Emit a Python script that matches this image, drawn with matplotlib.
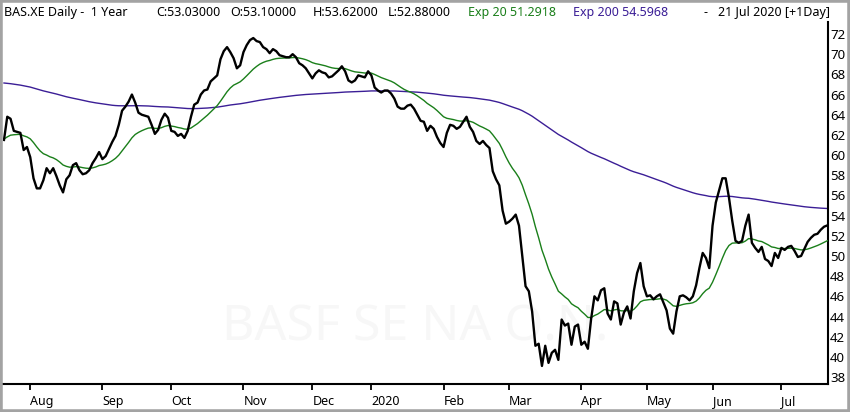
import pandas as pd
import matplotlib
matplotlib.use("Agg")
import matplotlib.pyplot as plt
from matplotlib.patches import Rectangle

plt.rcParams['font.family'] = ['Noto Sans', 'DejaVu Sans']

# trading days (Xetra), 22 Jul 2019 .. 21 Jul 2020
holidays = ['2019-10-03', '2019-12-24', '2019-12-25', '2019-12-26', '2019-12-31',
            '2020-01-01', '2020-04-10', '2020-04-13', '2020-05-01', '2020-06-01']
dates = pd.bdate_range('2019-07-22', '2020-07-21')
dates = dates[~dates.isin(pd.to_datetime(holidays))]

# daily close
close = [
  61.5, 63.8, 63.6, 62.4, 62.3, 62.2, 60.5, 60.8, 59.8, 57.7,
  56.7, 56.7, 57.5, 58.7, 58.2, 58.7, 57.9, 57.0, 56.3, 57.6,
  58.0, 59.0, 59.2, 58.5, 58.1, 58.2, 58.5, 59.2, 59.7, 60.3,
  59.6, 59.9, 60.6, 61.3, 61.9, 63.0, 64.4, 64.8, 65.3, 66.0,
  65.2, 64.2, 64.0, 63.9, 63.8, 63.0, 62.1, 62.5, 63.5, 64.1,
  63.7, 62.4, 62.3, 61.9, 62.1, 61.7, 62.4, 63.8, 65.0, 65.2,
  66.0, 66.4, 66.5, 67.3, 67.6, 67.9, 69.5, 70.3, 70.7, 70.2,
  69.6, 68.6, 68.9, 70.2, 70.9, 71.4, 71.6, 71.3, 71.2, 70.7,
  70.5, 70.1, 70.5, 70.3, 69.9, 69.8, 69.7, 69.7, 70.0, 69.7,
  69.1, 68.9, 68.6, 68.1, 67.6, 68.1, 68.4, 68.2, 68.1, 67.7,
  67.8, 68.1, 68.4, 68.8, 68.3, 67.4, 67.2, 67.4, 67.9, 67.8,
  67.7, 68.3, 67.9, 66.7, 66.4, 66.2, 66.4, 66.4, 66.1, 65.6,
  64.8, 64.6, 64.6, 64.9, 65.0, 64.6, 64.0, 63.4, 63.3, 62.4,
  62.9, 62.6, 61.8, 61.2, 60.8, 62.2, 63.0, 62.9, 62.6, 62.8,
  63.3, 63.8, 62.8, 62.3, 61.4, 61.1, 61.4, 61.0, 60.7, 58.4,
  57.6, 57.0, 54.5, 53.2, 53.4, 53.7, 54.1, 53.0, 50.0, 47.0,
  46.5, 44.5, 41.1, 41.3, 39.1, 41.1, 39.4, 40.4, 40.7, 39.7,
  43.7, 43.1, 43.3, 41.2, 43.0, 43.2, 41.2, 41.5, 40.8, 43.8,
  46.0, 45.6, 46.6, 46.8, 44.3, 43.7, 45.5, 45.3, 43.2, 44.4,
  45.0, 43.8, 46.5, 48.3, 49.3, 47.0, 46.0, 46.1, 45.7, 46.0,
  46.2, 45.4, 44.6, 42.8, 42.3, 44.5, 46.0, 46.1, 45.9, 45.6,
  46.0, 47.1, 48.8, 50.3, 49.8, 48.8, 53.0, 55.3, 56.5, 57.7,
  57.7, 55.8, 53.5, 51.5, 51.3, 51.5, 53.0, 54.1, 51.3, 50.8,
  50.4, 50.9, 49.7, 49.5, 49.0, 50.3, 49.8, 50.8, 50.6, 50.9,
  51.0, 50.5, 49.9, 50.0, 50.7, 51.4, 51.8, 52.1, 52.2, 52.6,
  52.9, 53.03,
]

# EMA values just before the window
ema20_start = 61.6
ema200_start = 67.2

header_left = "BAS.XE Daily -  1 Year"
ohlc = [("C", "53.03000"), ("O", "53.10000"), ("H", "53.62000"), ("L", "52.88000")]
exp20_txt = "Exp 20 51.2918"
exp200_txt = "Exp 200 54.5968"
date_txt = "21 Jul 2020 [+1Day]"

y_ticks = list(range(38, 73, 2))

n = min(len(close), len(dates))
s = pd.Series(close[:n])
ema20 = pd.concat([pd.Series([ema20_start]), s]).ewm(span=20, adjust=False).mean().iloc[1:].values
ema200 = pd.concat([pd.Series([ema200_start]), s]).ewm(span=200, adjust=False).mean().iloc[1:].values
x = list(range(n))

# month ticks at first trading day of each month
d = pd.Series(dates[:n])
first = d.dt.to_period('M') != d.dt.to_period('M').shift(1)
first.iloc[0] = False
m_idx = list(d[first].index)
m_lab = [dt.strftime('%Y') if dt.month == 1 else dt.strftime('%b') for dt in d[first]]

W, H = 850, 412
fig = plt.figure(figsize=(W / 100, H / 100), dpi=100)
ax = fig.add_axes([3 / W, 28 / H, 825 / W, 362 / H])

# faint watermark
ax.text(0.5, 0.155, "BASF SE NA O.N.", transform=ax.transAxes, ha='center', va='center',
        fontsize=36, color='#f7f7f7', zorder=0)

ax.plot(x, ema200, color='#3b1e96', lw=1.0, zorder=2)
ax.plot(x, ema20, color='#1a7f1a', lw=1.0, zorder=3)
ax.plot(x, close[:n], color='black', lw=1.7, zorder=4)

ax.set_xlim(-0.3, 251.2)
ax.set_ylim(37.31, 73.19)

ax.yaxis.tick_right()
ax.set_yticks(y_ticks)
ax.set_yticklabels([str(v) for v in y_ticks])
ax.tick_params(axis='y', length=0, pad=1.5, labelsize=9.5)

ax.set_xticks(m_idx)
ax.set_xticklabels(m_lab, ha='left')
ax.tick_params(axis='x', direction='out', length=4, width=1.3, pad=4, labelsize=9)

for side in ['top', 'left']:
  ax.spines[side].set_visible(False)
ax.spines['right'].set_linewidth(1.5)
ax.spines['bottom'].set_linewidth(1.5)

# header line
yb = 1 - 16 / H
fs = 9.0
fig.text(4 / W, yb, header_left, fontsize=fs, va='baseline')
for (k, v), px in zip(ohlc, [156, 230, 313, 388]):
  fig.text(px / W, yb, k + ":" + v, fontsize=fs, va='baseline')
fig.text(468 / W, yb, exp20_txt, fontsize=fs, va='baseline', color='#1a7f1a')
fig.text(573 / W, yb, exp200_txt, fontsize=fs, va='baseline', color='#3b1e96')
fig.text(703 / W, yb, "-", fontsize=fs, va='baseline')
fig.text(718 / W, yb, date_txt, fontsize=fs, va='baseline')

# window border
fig.patches.append(Rectangle((0, 0), 1, 1, transform=fig.transFigure, fill=False,
                             edgecolor='#a3a3a3', linewidth=4))

fig.savefig('out.png', dpi=100)
